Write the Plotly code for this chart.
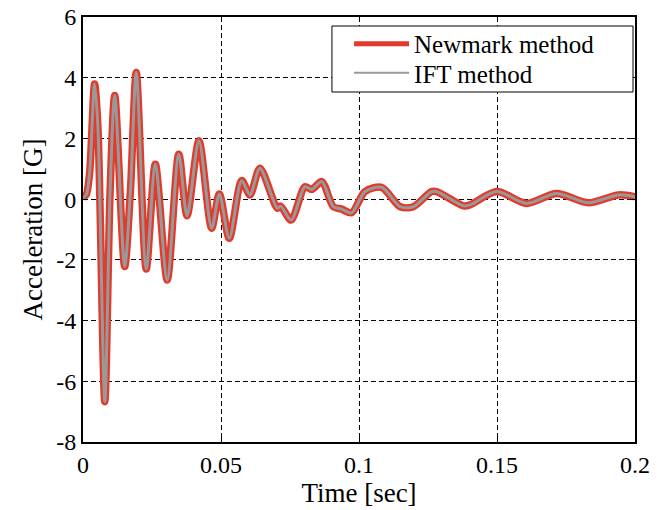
import plotly.graph_objects as go

# Time [sec] and acceleration [G] (peaks, troughs, shoulders)
time_s = [0.0, 0.0012, 0.0024, 0.0042, 0.0054, 0.0079, 0.0098, 0.0115, 0.0151,
          0.0172, 0.0193, 0.0229, 0.0262, 0.0305, 0.0347, 0.0377, 0.0420, 0.0466,
          0.0494, 0.0530, 0.0575, 0.0605, 0.0641, 0.0704, 0.0716, 0.0754, 0.0804,
          0.0829, 0.0865, 0.0907, 0.0937, 0.0973, 0.1022, 0.1082, 0.1149, 0.1197,
          0.1263, 0.1281, 0.1378, 0.1402, 0.1499, 0.1607, 0.1716, 0.1831, 0.1940,
          0.2000]
accel_g = [0.05, 0.15, 0.86, 3.79, 2.39, -6.67, 0.2, 3.41, -2.22,
           0.3, 4.17, -2.30, 1.15, -2.66, 1.48, -0.55, 1.92, -0.96,
           0.17, -1.29, 0.61, 0.14, 1.02, -0.30, -0.23, -0.69, 0.41,
           0.32, 0.58, -0.25, -0.33, -0.45, 0.25, 0.39, -0.25, -0.25,
           0.25, 0.25, -0.22, -0.19, 0.25, -0.14, 0.19, -0.12, 0.14,
           0.08]

x_ticks = [0, 0.05, 0.1, 0.15, 0.2]
x_tick_text = ["0", "0.05", "0.1", "0.15", "0.2"]
y_ticks = [-8, -6, -4, -2, 0, 2, 4, 6]
y_tick_text = ["-8", "-6", "-4", "-2", "0", "2", "4", "6"]
series_names = ["Newmark method", "IFT method"]

FONT = "Liberation Serif"
RED = "#e23a2b"
GRAY = "#999999"

fig = go.Figure()
fig.add_trace(go.Scatter(x=time_s, y=accel_g, mode="lines", name=series_names[0],
                         showlegend=False,
                         line=dict(color=RED, width=7.5, shape="spline", smoothing=0.8)))
fig.add_trace(go.Scatter(x=time_s, y=accel_g, mode="lines", name=series_names[1],
                         showlegend=False,
                         line=dict(color=GRAY, width=3, shape="spline", smoothing=0.8)))
# legend entries (legend-sized line widths), one row per legend
fig.add_trace(go.Scatter(x=[None], y=[None], mode="lines", name=series_names[0],
                         legend="legend", line=dict(color=RED, width=5)))
fig.add_trace(go.Scatter(x=[None], y=[None], mode="lines", name=series_names[1],
                         legend="legend2", line=dict(color=GRAY, width=2)))

axis_common = dict(showline=True, linecolor="black", linewidth=2, mirror="ticks",
                   ticks="inside", ticklen=5, tickcolor="black", tickwidth=1,
                   showgrid=True, gridcolor="black", griddash="5px,3px", gridwidth=1,
                   zeroline=False, automargin=False,
                   tickfont=dict(family=FONT, size=24, color="black"))

fig.update_xaxes(range=[0, 0.2], tickvals=x_ticks, ticktext=x_tick_text,
                 title=dict(text="Time [sec]", font=dict(family=FONT, size=27, color="black"), standoff=4),
                 **axis_common)
fig.update_yaxes(range=[-8, 6], tickvals=y_ticks, ticktext=y_tick_text,
                 title=dict(text="Acceleration [G]", font=dict(family=FONT, size=27, color="black"), standoff=6),
                 **axis_common)

legend_common = dict(xanchor="left", yanchor="middle", bgcolor="rgba(0,0,0,0)",
                     borderwidth=0, font=dict(family=FONT, size=25, color="black"),
                     itemwidth=55)

fig.update_layout(
    width=666, height=510,
    margin=dict(l=83, r=31, t=17, b=68, autoexpand=False),
    paper_bgcolor="white", plot_bgcolor="white",
    font=dict(family=FONT, color="black"),
    legend=dict(x=0.482, y=0.9365, **legend_common),
    legend2=dict(x=0.482, y=0.868, **legend_common),
    shapes=[dict(type="rect", xref="paper", yref="paper",
                 x0=0.451, x1=0.9964, y0=0.8235, y1=0.9788,
                 fillcolor="white", line=dict(color="black", width=1), layer="above")],
    showlegend=True,
)

fig.write_html("out.html")
